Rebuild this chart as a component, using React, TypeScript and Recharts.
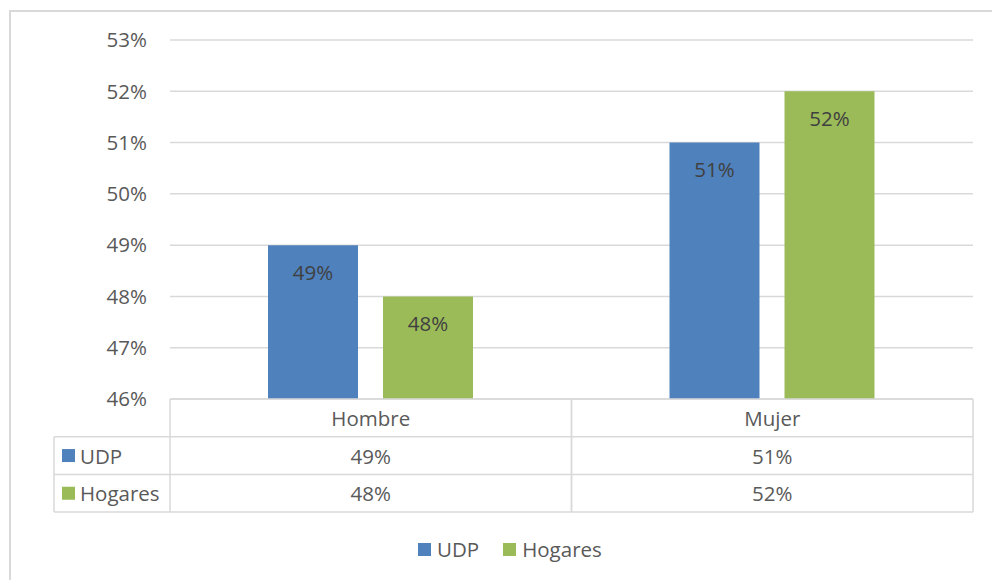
import { Bar, BarChart, CartesianGrid, LabelList, Legend, XAxis, YAxis } from "recharts";

const categories = ["Hombre", "Mujer"];
const udp = [49, 51];
const hogares = [48, 52];
const yTicks = [46, 47, 48, 49, 50, 51, 52, 53];

const series = [
  { key: "UDP", values: udp, color: "#4F81BD" },
  { key: "Hogares", values: hogares, color: "#9BBB59" }
];

const data = categories.map((name, i) => ({ name, UDP: udp[i], Hogares: hogares[i] }));

const FONT = "'Open Sans', sans-serif";
const FS = 20.5;
const TEXT = "#595959";
const LINE = "#D9D9D9";
const ROW_H = 37.7;
const KEY_COL = 116;
const pct = (v: number) => `${v}%`;

// data table under the plot, drawn per category from the x axis ticks
function TableTick(props: any) {
  const { x, y, payload, index } = props;
  const half = payload.offset || 200;
  const left = x - half;
  const right = x + half;
  const rows = [categories[index], ...series.map((s) => pct(s.values[index]))];
  return (
    <g fontFamily={FONT} fontSize={FS} fill={TEXT}>
      {[0, 1, 2, 3].map((r) => (
        <line key={r} x1={left} x2={right} y1={y + r * ROW_H} y2={y + r * ROW_H} stroke={LINE} strokeWidth={1.5} />
      ))}
      <line x1={left} x2={left} y1={y} y2={y + 3 * ROW_H} stroke={LINE} strokeWidth={1.5} />
      <line x1={right} x2={right} y1={y} y2={y + 3 * ROW_H} stroke={LINE} strokeWidth={1.5} />
      {rows.map((t, r) => (
        <text key={r} x={x} y={y + r * ROW_H + ROW_H / 2} textAnchor="middle" dominantBaseline="central" fill={TEXT}>
          {t}
        </text>
      ))}
      {index === 0 && (
        <g>
          {[1, 2, 3].map((r) => (
            <line key={r} x1={left - KEY_COL} x2={left} y1={y + r * ROW_H} y2={y + r * ROW_H} stroke={LINE} strokeWidth={1.5} />
          ))}
          <line x1={left - KEY_COL} x2={left - KEY_COL} y1={y + ROW_H} y2={y + 3 * ROW_H} stroke={LINE} strokeWidth={1.5} />
          {series.map((s, r) => (
            <g key={s.key}>
              <rect x={left - KEY_COL + 8} y={y + (r + 1) * ROW_H + ROW_H / 2 - 6.5} width={13} height={13} fill={s.color} />
              <text x={left - KEY_COL + 26} y={y + (r + 1) * ROW_H + ROW_H / 2} dominantBaseline="central" fill={TEXT}>
                {s.key}
              </text>
            </g>
          ))}
        </g>
      )}
    </g>
  );
}

function LegendContent() {
  return (
    <div style={{ display: "flex", alignItems: "center", fontFamily: FONT, fontSize: FS, color: TEXT, lineHeight: "26px" }}>
      {series.map((s) => (
        <div key={s.key} style={{ display: "flex", alignItems: "center", marginRight: 24 }}>
          <span style={{ display: "inline-block", width: 13, height: 13, background: s.color, marginRight: 6 }} />
          <span>{s.key}</span>
        </div>
      ))}
    </div>
  );
}

export default function App() {
  return (
    <div style={{ position: "absolute", left: 0, top: 0, width: 992, height: 580, background: "#fff", overflow: "hidden" }}>
      <div
        style={{
          position: "absolute",
          left: 9,
          top: 10,
          width: 990,
          height: 580,
          borderLeft: `2px solid ${LINE}`,
          borderTop: `2px solid ${LINE}`
        }}
      />
      <BarChart
        width={992}
        height={580}
        data={data}
        margin={{ top: 40, right: 19, bottom: 68, left: 110 }}
        barSize={90}
        barGap={25}
        style={{ position: "absolute", left: 0, top: 0 }}
      >
        <CartesianGrid vertical={false} stroke={LINE} strokeWidth={1.5} />
        <XAxis
          dataKey="name"
          height={113}
          axisLine={false}
          tickLine={false}
          tickSize={0}
          tickMargin={0}
          interval={0}
          tick={<TableTick />}
        />
        <YAxis
          domain={[46, 53]}
          ticks={yTicks}
          tickFormatter={pct}
          width={60}
          axisLine={false}
          tickLine={false}
          tickSize={0}
          tickMargin={23}
          tick={{ fill: TEXT, fontSize: FS, fontFamily: FONT }}
        />
        <Legend
          verticalAlign="middle"
          align="center"
          content={<LegendContent />}
          wrapperStyle={{ top: 536, left: 418, width: 300 }}
        />
        {series.map((s) => (
          <Bar key={s.key} dataKey={s.key} fill={s.color} isAnimationActive={false}>
            <LabelList
              dataKey={s.key}
              position="insideTop"
              offset={20}
              formatter={(v: any) => pct(v)}
              fill="#404040"
              style={{ fontFamily: FONT, fontSize: FS }}
            />
          </Bar>
        ))}
      </BarChart>
    </div>
  );
}
